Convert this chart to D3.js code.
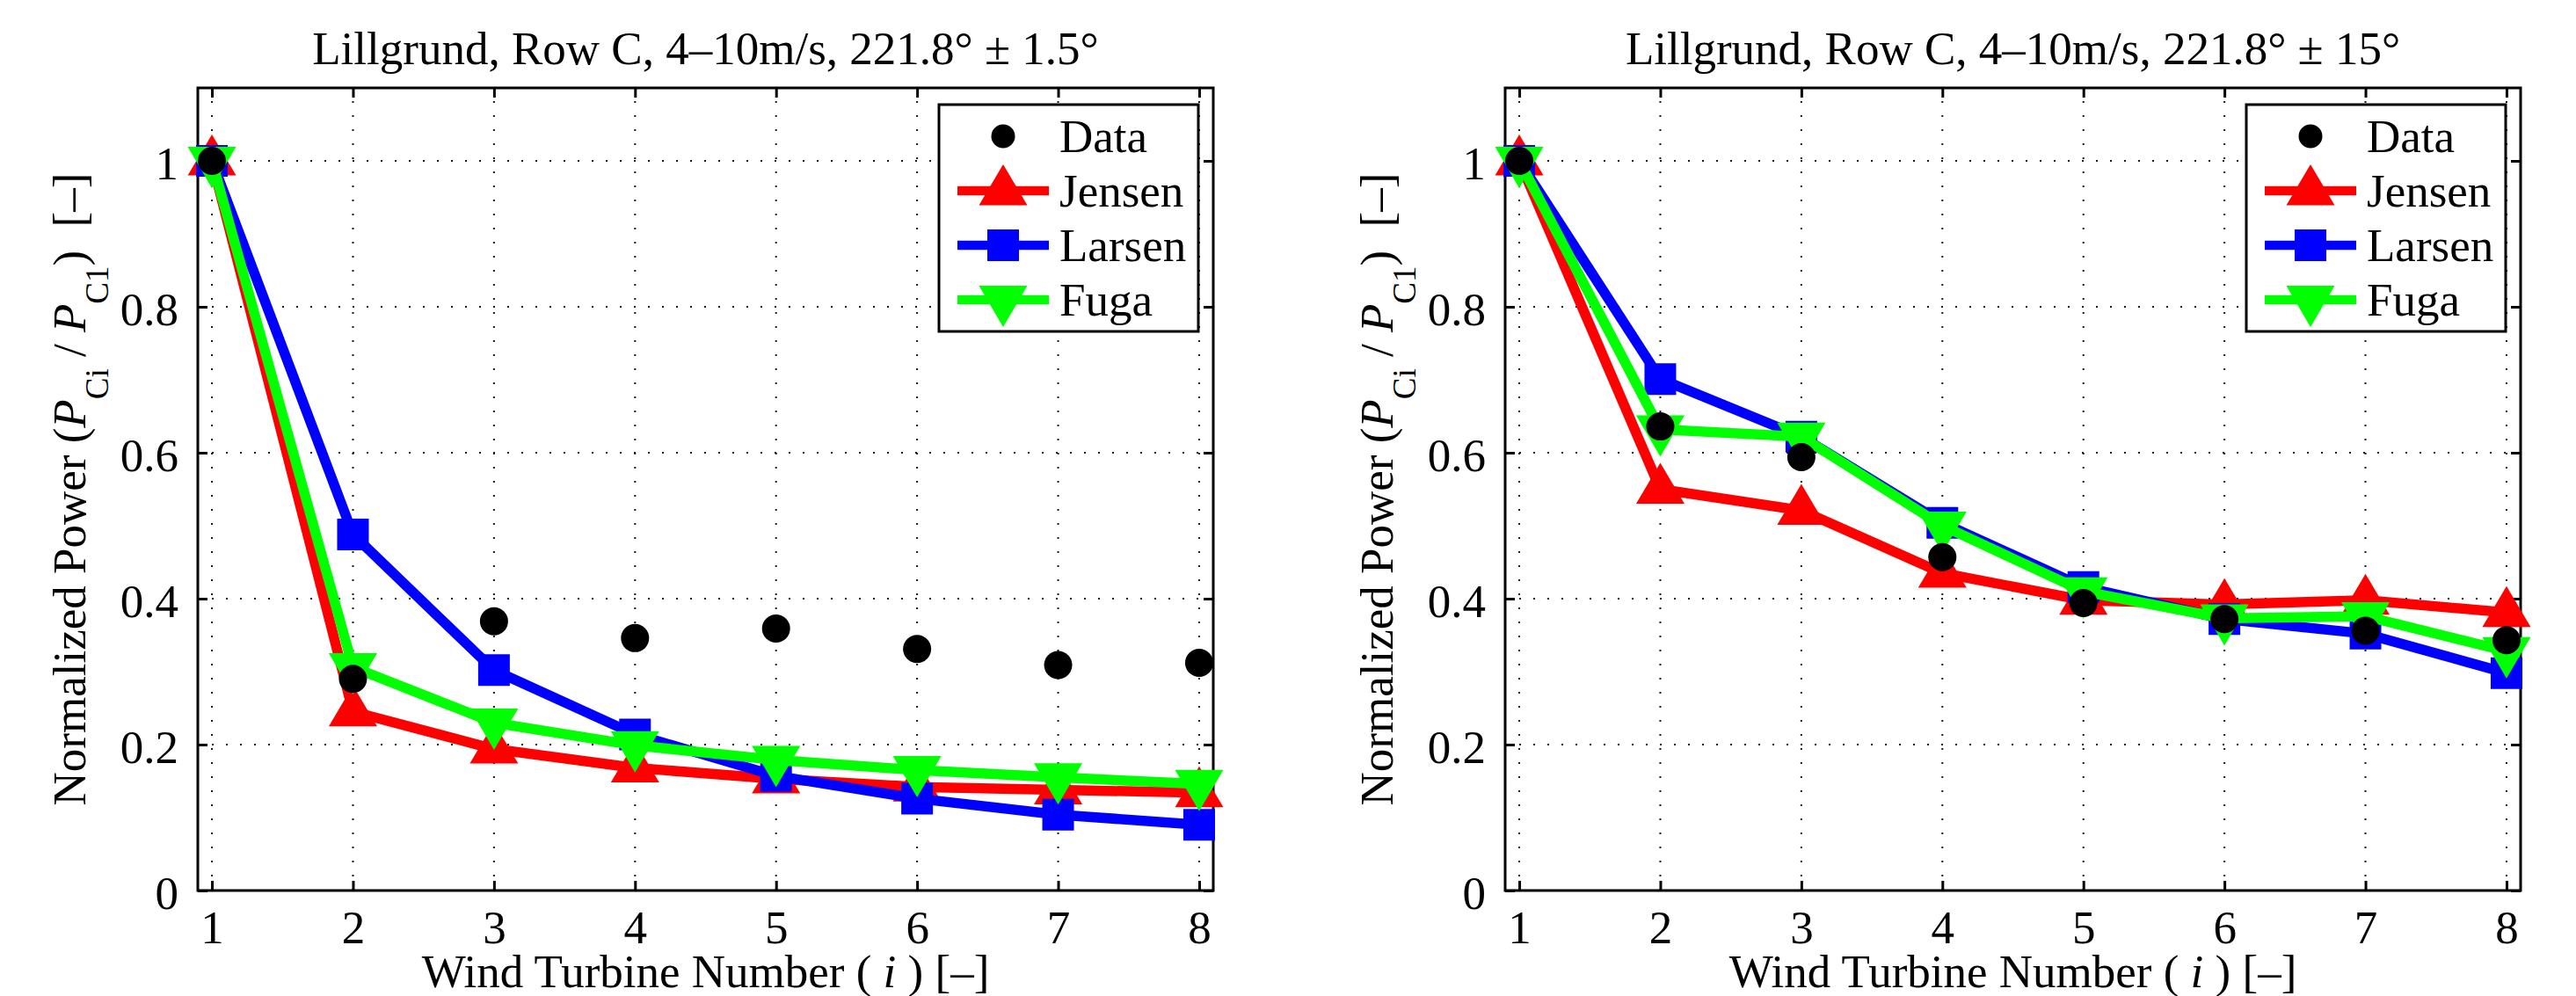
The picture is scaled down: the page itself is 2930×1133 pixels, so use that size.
<!DOCTYPE html>
<html>
<head>
<meta charset="utf-8">
<script src="https://cdn.jsdelivr.net/npm/d3@7"></script>
<style>
  html, body { margin: 0; padding: 0; background: #fff; }
  svg { display: block; }
  text { font-family: "Liberation Serif", "Times New Roman", serif; fill: #000; }
</style>
</head>
<body>
<svg id="chart" width="2930" height="1133"></svg>
<script>
// Turbine index along Row C
const turbines = [1, 2, 3, 4, 5, 6, 7, 8];
const xTicks = [1, 2, 3, 4, 5, 6, 7, 8];
const yTicks = [0, 0.2, 0.4, 0.6, 0.8, 1];
const yTickLabels = ["0", "0.2", "0.4", "0.6", "0.8", "1"];

// Narrow sector: 221.8° ± 1.5°
const titleNarrow = "Lillgrund, Row C, 4–10m/s, 221.8° ± 1.5°";
const dataNarrow   = [1.0, 0.290, 0.369, 0.346, 0.359, 0.331, 0.309, 0.312];
const jensenNarrow = [1.0, 0.245, 0.194, 0.168, 0.153, 0.142, 0.138, 0.134];
const larsenNarrow = [1.0, 0.488, 0.302, 0.214, 0.157, 0.126, 0.104, 0.090];
const fugaNarrow   = [1.0, 0.306, 0.230, 0.199, 0.179, 0.165, 0.155, 0.146];

// Wide sector: 221.8° ± 15°
const titleWide = "Lillgrund, Row C, 4–10m/s, 221.8° ± 15°";
const dataWide   = [1.0, 0.636, 0.594, 0.457, 0.394, 0.372, 0.356, 0.343];
const jensenWide = [1.0, 0.550, 0.521, 0.435, 0.398, 0.392, 0.398, 0.381];
const larsenWide = [1.0, 0.701, 0.622, 0.504, 0.416, 0.372, 0.352, 0.298];
const fugaWide   = [1.0, 0.632, 0.622, 0.500, 0.410, 0.373, 0.376, 0.328];

const seriesNames = ["Data", "Jensen", "Larsen", "Fuga"];
const seriesColors = ["#000000", "#ff0000", "#0000ff", "#00ff00"];
const seriesMarkers = ["circle", "up", "square", "down"];

const svg = d3.select("#chart");
svg.append("rect").attr("width", 2930).attr("height", 1133).attr("fill", "#fff");

const FS = 53;
const panelTop = 100, panelBottom = 1013, panelWidth = 1155;

function markerPath(kind, big) {
  if (kind === "up") return "M0,-30L27.5,16.5L-27.5,16.5Z";
  if (kind === "down") return "M0,31L27.5,-16L-27.5,-16Z";
  if (kind === "square") return "M-18,-18H18V18H-18Z";
  const r = big ? 16 : 13.5;
  const p = d3.path();
  p.arc(0, 0, r, 0, 2 * Math.PI);
  p.closePath();
  return p.toString();
}

function drawPanel(left, title, values) {
  const g = svg.append("g");
  const x = d3.scaleLinear().domain([0.9, 8.1]).range([left, left + panelWidth]);
  const y = d3.scaleLinear().domain([0, 1.1]).range([panelBottom, panelTop]);

  // dotted grid
  const grid = g.append("g").attr("stroke", "#1a1a1a").attr("stroke-width", 2)
    .attr("stroke-dasharray", "2,14");
  xTicks.forEach(t => grid.append("line")
    .attr("x1", x(t)).attr("x2", x(t)).attr("y1", panelBottom).attr("y2", panelTop));
  yTicks.filter(t => t > 0).forEach(t => grid.append("line")
    .attr("x1", x.range()[0]).attr("x2", x.range()[1]).attr("y1", y(t)).attr("y2", y(t)));

  // axes with inward ticks on all four sides
  const tl = 11;
  const axB = g.append("g").attr("transform", `translate(0,${panelBottom})`)
    .call(d3.axisBottom(x).tickValues(xTicks).tickSizeInner(-tl).tickSizeOuter(0).tickPadding(tl + 13));
  const axT = g.append("g").attr("transform", `translate(0,${panelTop})`)
    .call(d3.axisTop(x).tickValues(xTicks).tickSizeInner(-tl).tickSizeOuter(0).tickFormat(""));
  const axL = g.append("g").attr("transform", `translate(${left},0)`)
    .call(d3.axisLeft(y).tickValues(yTicks).tickSizeInner(-tl).tickSizeOuter(0)
      .tickFormat((d, i) => yTickLabels[i]).tickPadding(tl + 11));
  const axR = g.append("g").attr("transform", `translate(${left + panelWidth},0)`)
    .call(d3.axisRight(y).tickValues(yTicks).tickSizeInner(-tl).tickSizeOuter(0).tickFormat(""));
  [axB, axT, axL, axR].forEach(a => {
    a.attr("font-family", null);
    a.select(".domain").remove();
    a.selectAll(".tick line").attr("stroke", "#000").attr("stroke-width", 3);
    a.selectAll("text").attr("font-size", FS).attr("fill", "#000");
  });
  axL.selectAll("text").attr("dy", null).attr("y", 20);
  axB.selectAll("text").attr("dy", null).attr("y", 60);

  // frame
  g.append("rect").attr("x", left).attr("y", panelTop)
    .attr("width", panelWidth).attr("height", panelBottom - panelTop)
    .attr("fill", "none").attr("stroke", "#000").attr("stroke-width", 3);

  // model lines drawn first, measured data on top
  const line = d3.line().x((d, i) => x(turbines[i])).y(d => y(d));
  const order = [1, 2, 3, 0];
  order.forEach(s => {
    const vals = values[s];
    const sg = g.append("g");
    if (s > 0) {
      sg.append("path").datum(vals).attr("d", line)
        .attr("fill", "none").attr("stroke", seriesColors[s]).attr("stroke-width", 11.5)
        .attr("stroke-linejoin", "miter");
    }
    sg.selectAll("path.mk").data(vals).join("path").attr("class", "mk")
      .attr("transform", (d, i) => `translate(${x(turbines[i])},${y(d)})`)
      .attr("d", markerPath(seriesMarkers[s], true))
      .attr("fill", seriesColors[s]);
  });

  // legend
  const lx = left + panelWidth - 17 - 295, ly = 119;
  const lg = g.append("g");
  lg.append("rect").attr("x", lx).attr("y", ly).attr("width", 295).attr("height", 258)
    .attr("fill", "#fff").attr("stroke", "#000").attr("stroke-width", 3);
  seriesNames.forEach((name, s) => {
    const cy = 155 + s * 62;
    if (s > 0) {
      lg.append("line").attr("x1", lx + 21).attr("x2", lx + 125).attr("y1", cy).attr("y2", cy)
        .attr("stroke", seriesColors[s]).attr("stroke-width", 10.5);
    }
    lg.append("path").attr("transform", `translate(${lx + 73},${cy})`)
      .attr("d", markerPath(seriesMarkers[s], false)).attr("fill", seriesColors[s]);
    lg.append("text").attr("x", lx + 137).attr("y", cy + 18).attr("font-size", FS).text(name);
  });

  const cx = left + panelWidth / 2;
  // title
  g.append("text").attr("x", cx).attr("y", 73).attr("text-anchor", "middle")
    .attr("font-size", FS).text(title);

  // x label
  const xl = g.append("text").attr("x", cx).attr("y", 1123).attr("text-anchor", "middle")
    .attr("font-size", FS).attr("xml:space", "preserve").style("white-space", "pre");
  xl.append("tspan").text("Wind Turbine Number ( ");
  xl.append("tspan").attr("font-style", "italic").text("i");
  xl.append("tspan").text(" ) [–]");

  // y label
  const cyL = (panelTop + panelBottom) / 2;
  const yl = g.append("text").attr("transform", `translate(${left - 128},${cyL}) rotate(-90)`)
    .attr("text-anchor", "middle").attr("font-size", FS)
    .attr("xml:space", "preserve").style("white-space", "pre");
  yl.append("tspan").text("Normalized Power (");
  yl.append("tspan").attr("font-style", "italic").text("P");
  yl.append("tspan").attr("font-size", 37).attr("dy", 26).text("Ci");
  yl.append("tspan").attr("dy", -26).text(" / ");
  yl.append("tspan").attr("font-style", "italic").text("P");
  yl.append("tspan").attr("font-size", 37).attr("dy", 26).text("C1");
  yl.append("tspan").attr("dy", -26).text(")  [–]");
}

drawPanel(225, titleNarrow, [dataNarrow, jensenNarrow, larsenNarrow, fugaNarrow]);
drawPanel(1712, titleWide, [dataWide, jensenWide, larsenWide, fugaWide]);
</script>
</body>
</html>
